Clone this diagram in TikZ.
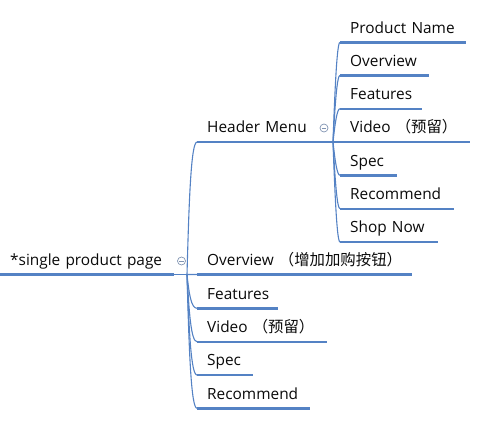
\documentclass[tikz,border=0pt]{standalone}
\usepackage{fontspec}
\setmainfont{Open Sans}
\newfontfamily\cjk{Noto Sans CJK SC}
\usetikzlibrary{calc}

\definecolor{lineblue}{RGB}{84,130,196}
\definecolor{foldgray}{RGB}{128,148,178}
\definecolor{inkblack}{RGB}{10,10,10}

\tikzset{
  topic/.style={anchor=south west, inner xsep=10pt, inner ysep=0pt, text depth=9pt,
    align=left, font=\fontsize{15.4}{18}\selectfont, text=inkblack},
  uline/.style={draw=lineblue, line width=2.4pt},
  link/.style={draw=lineblue, line width=1.1pt},
  fold/.style={circle, draw=foldgray, line width=0.7pt, minimum size=8pt, inner sep=0pt,
    path picture={\draw[foldgray, line width=0.7pt]
      ([xshift=-2.2pt]path picture bounding box.center) -- ([xshift=2.2pt]path picture bounding box.center);}}
}

\begin{document}
\begin{tikzpicture}[x=1pt, y=-1pt]
\useasboundingbox (0,0) rectangle (483,432);

%%%%%%%%%%%%%%%%%%%%%%%%%%%%%%%
\node[topic, text width=154pt] (root) at (0,274.5) {*single product page};
\coordinate (rj) at (187,274.5);
\node[fold] (rf) at (181.5,261) {};

\node[topic, text width=100pt] (hm) at (197,142) {Header Menu};
\node[topic, text width=195pt] (ov) at (197,274.5) {Overview {\cjk （增加加购按钮）}};
\node[topic, text width=61pt] (fe) at (197,308.3) {Features};
\node[topic, text width=110pt] (vi) at (197,341.7) {Video {\cjk （预留）}};
\node[topic, text width=36pt] (sp) at (197,375) {Spec};
\node[topic, text width=93pt] (re) at (197,408.3) {Recommend};

%%%%%%%%%%%%%%%%%%%%%%%%%%%%%%%
\coordinate (hj) at (333,142);
\node[fold] (hf) at (324,128) {};

\node[topic, text width=106pt] (pn) at (340,42.3) {Product Name};
\node[topic, text width=69pt] (ovb) at (340,75.3) {Overview};
\node[topic, text width=62pt] (feb) at (340,108.7) {Features};
\node[topic, text width=110pt] (vib) at (340,142) {Video {\cjk （预留）}};
\node[topic, text width=37pt] (spb) at (340,175.3) {Spec};
\node[topic, text width=94pt] (reb) at (340,208.7) {Recommend};
\node[topic, text width=78pt] (sn) at (340,242) {Shop Now};

%%%%%%%%%%%%%%%%%%%%%%%%%%%%%%%
\foreach \n in {root,hm,ov,fe,vi,sp,re,pn,ovb,feb,vib,spb,reb,sn}
  \draw[uline] (\n.south west) -- (\n.south east);

\draw[link] (root.south east) -- (rj);
\draw[link] (hm.south east) -- (hj);

\foreach \n in {hm,ov,fe,vi,sp,re}
  \draw[link] (rj) .. controls ($(rj)!0.55!(rj |- \n.south west)+(2,0)$)
    and ($(rj |- \n.south west)+(4,0)$) .. (\n.south west);

\foreach \n in {pn,ovb,feb,vib,spb,reb,sn}
  \draw[link] (hj) .. controls ($(hj)!0.55!(hj |- \n.south west)+(2,0)$)
    and ($(hj |- \n.south west)+(4,0)$) .. (\n.south west);
\end{tikzpicture}
\end{document}
